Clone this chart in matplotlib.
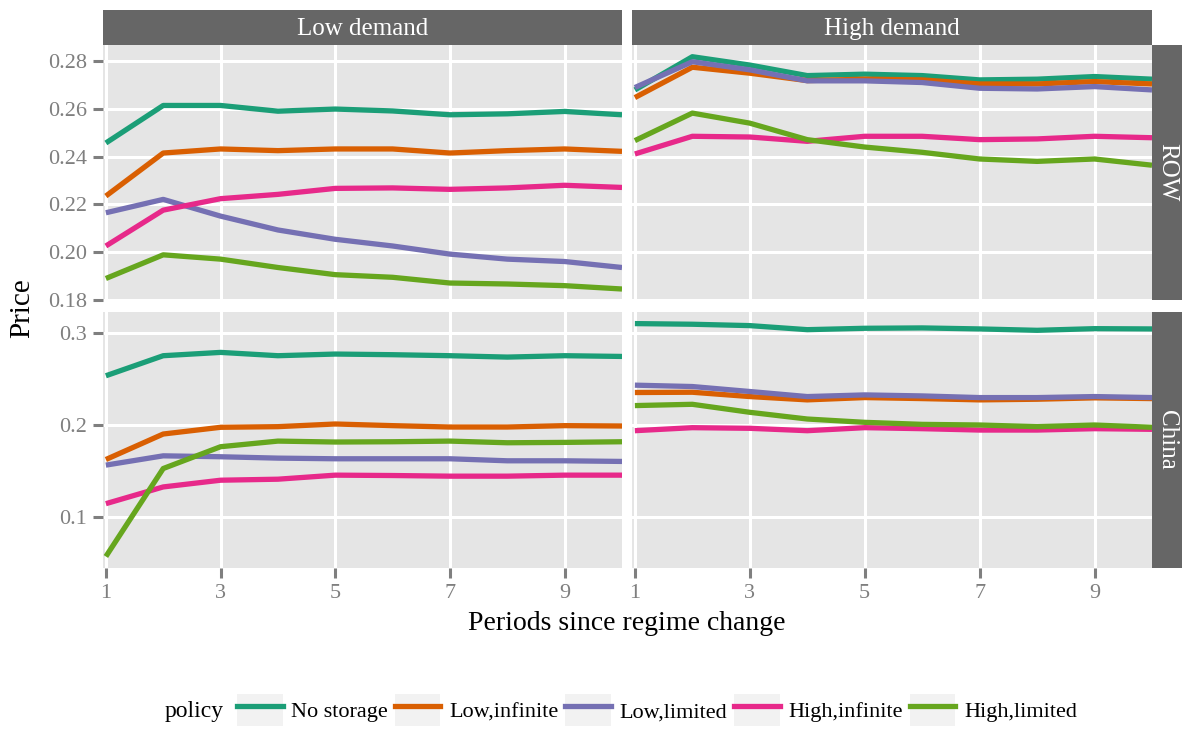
import numpy as np
import matplotlib
matplotlib.use("Agg")
import matplotlib.pyplot as plt
from matplotlib.patches import Rectangle
from matplotlib.lines import Line2D
from matplotlib.legend_handler import HandlerTuple

plt.rcParams['font.family'] = ['Liberation Serif', 'DejaVu Serif']

periods = np.arange(1, 11)
policies = ["No storage", "Low,infinite", "Low,limited", "High,infinite", "High,limited"]
colors = ["#1B9E77", "#D95F02", "#7570B3", "#E7298A", "#66A61E"]
demands = ["Low demand", "High demand"]
regions = ["ROW", "China"]

# prices by policy, one list per (region, demand) facet
row_low = [
    [0.2457, 0.2614, 0.2614, 0.2590, 0.2599, 0.2591, 0.2575, 0.2579, 0.2589, 0.2575],
    [0.2235, 0.2415, 0.2432, 0.2425, 0.2432, 0.2432, 0.2415, 0.2425, 0.2432, 0.2422],
    [0.2165, 0.2221, 0.2151, 0.2093, 0.2054, 0.2026, 0.1992, 0.1971, 0.1961, 0.1936],
    [0.2026, 0.2176, 0.2224, 0.2242, 0.2267, 0.2269, 0.2263, 0.2269, 0.2280, 0.2271],
    [0.1890, 0.1989, 0.1971, 0.1936, 0.1906, 0.1895, 0.1871, 0.1867, 0.1860, 0.1846],
]
row_high = [
    [0.2679, 0.2818, 0.2783, 0.2739, 0.2745, 0.2739, 0.2721, 0.2724, 0.2735, 0.2724],
    [0.2647, 0.2774, 0.2749, 0.2718, 0.2724, 0.2721, 0.2704, 0.2704, 0.2714, 0.2704],
    [0.2689, 0.2797, 0.2763, 0.2717, 0.2717, 0.2710, 0.2686, 0.2683, 0.2693, 0.2679],
    [0.2411, 0.2485, 0.2482, 0.2464, 0.2485, 0.2485, 0.2471, 0.2474, 0.2485, 0.2479],
    [0.2467, 0.2582, 0.2540, 0.2471, 0.2440, 0.2418, 0.2390, 0.2380, 0.2390, 0.2364],
]
china_low = [
    [0.2535, 0.2753, 0.2789, 0.2753, 0.2771, 0.2764, 0.2753, 0.2738, 0.2753, 0.2745],
    [0.1625, 0.1902, 0.1975, 0.1982, 0.2011, 0.1993, 0.1978, 0.1978, 0.1993, 0.1989],
    [0.1564, 0.1665, 0.1655, 0.1640, 0.1633, 0.1633, 0.1633, 0.1611, 0.1611, 0.1604],
    [0.1145, 0.1327, 0.1400, 0.1411, 0.1455, 0.1451, 0.1444, 0.1444, 0.1455, 0.1455],
    [0.0571, 0.1527, 0.1764, 0.1825, 0.1815, 0.1818, 0.1825, 0.1807, 0.1811, 0.1818],
]
china_high = [
    [0.3102, 0.3095, 0.3080, 0.3036, 0.3051, 0.3055, 0.3044, 0.3029, 0.3047, 0.3044],
    [0.2353, 0.2356, 0.2309, 0.2273, 0.2298, 0.2287, 0.2273, 0.2280, 0.2295, 0.2287],
    [0.2433, 0.2418, 0.2364, 0.2309, 0.2327, 0.2316, 0.2298, 0.2298, 0.2309, 0.2298],
    [0.1938, 0.1971, 0.1964, 0.1938, 0.1971, 0.1960, 0.1945, 0.1945, 0.1960, 0.1953],
    [0.2211, 0.2225, 0.2138, 0.2065, 0.2029, 0.2007, 0.2000, 0.1982, 0.2000, 0.1975],
]
facets = [[row_low, row_high], [china_low, china_high]]

ylims = [(0.1805, 0.2867), (0.0446, 0.3228)]
yticks = [[0.18, 0.20, 0.22, 0.24, 0.26, 0.28], [0.1, 0.2, 0.3]]
ylabels = [["0.18", "0.20", "0.22", "0.24", "0.26", "0.28"], ["0.1", "0.2", "0.3"]]

W, H = 1182, 729
fig = plt.figure(figsize=(W / 100, H / 100), dpi=100)

def fr(x0, y0, x1, y1):
    return [x0 / W, 1 - y1 / H, (x1 - x0) / W, (y1 - y0) / H]

col_x = [(103, 622), (632, 1152)]
row_y = [(45, 300), (312, 568)]
strip_bg = "#666666"
tick_gray = "#7f7f7f"

for r in range(2):
    for c in range(2):
        ax = fig.add_axes(fr(col_x[c][0], row_y[r][0], col_x[c][1], row_y[r][1]))
        ax.set_facecolor("#E5E5E5")
        for s in ax.spines.values():
            s.set_visible(False)
        for vals, col in zip(facets[r][c], colors):
            ax.plot(periods, vals, color=col, lw=3.8, solid_capstyle="butt", zorder=3)
        ax.set_xlim(0.95, 10.0)
        ax.set_ylim(*ylims[r])
        ax.set_xticks([1, 3, 5, 7, 9])
        ax.set_yticks(yticks[r])
        ax.grid(True, color="white", lw=2.2)
        ax.set_axisbelow(True)
        ax.tick_params(colors=tick_gray, length=7.5, width=2.2, labelsize=16, pad=4)
        if c == 0:
            ax.set_yticklabels(ylabels[r])
        else:
            ax.tick_params(axis="y", left=False, labelleft=False)
        if r == 1:
            ax.set_xticklabels(["1", "3", "5", "7", "9"])
        else:
            ax.tick_params(axis="x", bottom=False, labelbottom=False)
        for lab in ax.get_xticklabels() + ax.get_yticklabels():
            lab.set_color(tick_gray)

        if r == 0:
            sax = fig.add_axes(fr(col_x[c][0], 10, col_x[c][1], 45))
            sax.set_facecolor(strip_bg)
            sax.set_xticks([]); sax.set_yticks([])
            for s in sax.spines.values():
                s.set_visible(False)
            sax.text(0.5, 0.46, demands[c], color="white", fontsize=18,
                     ha="center", va="center", transform=sax.transAxes)
        if c == 1:
            sax = fig.add_axes(fr(1152, row_y[r][0], 1182, row_y[r][1]))
            sax.set_facecolor(strip_bg)
            sax.set_xticks([]); sax.set_yticks([])
            for s in sax.spines.values():
                s.set_visible(False)
            sax.text(0.5, 0.5, regions[r], color="white", fontsize=18, rotation=-90,
                     ha="center", va="center", transform=sax.transAxes)

fig.text(22 / W, 1 - 308 / H, "Price", rotation=90, fontsize=21,
         ha="center", va="center")
fig.text(627 / W, 1 - 623 / H, "Periods since regime change", fontsize=20,
         ha="center", va="center")

# legend: grey key boxes with a coloured line in each
handles = [(Rectangle((0, 0), 1, 1, facecolor="#F2F2F2", edgecolor="none"),
            Line2D([], [], color=col, lw=3.8)) for col in colors]
fig.text(194 / W, 1 - 711 / H, "policy", fontsize=17, ha="center", va="center")
fig.legend(handles, policies, handler_map={tuple: HandlerTuple(ndivide=1, pad=0)},
           loc="center left", bbox_to_anchor=(237 / W, 1 - 710 / H), ncol=5,
           frameon=False, fontsize=16, handlelength=2.05, handleheight=1.85,
           handletextpad=0.4, columnspacing=0.3, borderpad=0, borderaxespad=0)

fig.savefig("out.png", dpi=100, facecolor="white")
